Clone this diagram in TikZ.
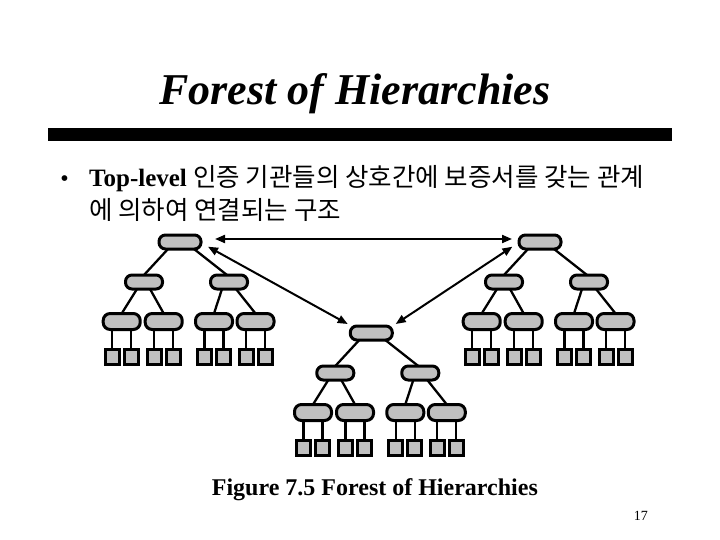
\documentclass[tikz,border=0pt]{standalone}
\usepackage{fontspec}
\setmainfont{Liberation Serif}
\newfontfamily\kr{Noto Sans CJK KR}
\usetikzlibrary{arrows.meta,calc,backgrounds}
\definecolor{boxgray}{RGB}{192,192,192}
\tikzset{
  boxbase/.style={draw=black,fill=boxgray,line width=3pt,inner sep=0pt,outer sep=0pt},
  rootbox/.style={boxbase,rectangle,rounded corners=6.5pt,minimum width=42pt,minimum height=14pt},
  midbox/.style={boxbase,rectangle,rounded corners=6.5pt,minimum width=37pt,minimum height=14pt},
  lowbox/.style={boxbase,rectangle,rounded corners=7pt,minimum width=37pt,minimum height=16pt},
  leafbox/.style={boxbase,rectangle,minimum width=14pt,minimum height=15pt},
  link/.style={draw=black,line width=2.3pt},
  biarrow/.style={draw=black,line width=2pt,{Triangle[length=10pt,width=8pt]}-{Triangle[length=10pt,width=8pt]}},
}
\newcommand\hiertree[3]{%
\begin{scope}[shift={(#2,#3)}]
\node[rootbox] (#1r) at (0,0) {};
\node[midbox] (#1a) at (-36,40) {};
\node[midbox] (#1b) at (49,40) {};
\node[lowbox] (#1aa) at (-58.3,79.5) {};
\node[lowbox] (#1ab) at (-16.3,79.5) {};
\node[lowbox] (#1ba) at (34,79.5) {};
\node[lowbox] (#1bb) at (75.5,79.5) {};
\foreach \p/\q in {aa/-58.3,ab/-16.3,ba/34,bb/75.5}{
  \node[leafbox] (#1\p1) at (\q-9.5,114.7) {};
  \node[leafbox] (#1\p2) at (\q+9.5,114.7) {};
}
\end{scope}
\begin{scope}[on background layer]
\draw[link] ([xshift=-12pt]#1r.south) -- (#1a.north);
\draw[link] ([xshift=14pt]#1r.south) -- ([xshift=-2pt]#1b.north);
\draw[link] ([xshift=-7pt]#1a.south) -- (#1aa.north);
\draw[link] ([xshift=6pt]#1a.south) -- (#1ab.north);
\draw[link] ([xshift=-7pt]#1b.south) -- (#1ba.north);
\draw[link] ([xshift=7pt]#1b.south) -- (#1bb.north);
\foreach \p in {aa,ab,ba,bb}{
  \draw[link] (#1\p1.north) -- (#1\p1.north |- #1\p.south);
  \draw[link] (#1\p2.north) -- (#1\p2.north |- #1\p.south);
}
\end{scope}
}
\begin{document}
\begin{tikzpicture}[x=1pt,y=-1pt]
\useasboundingbox (0,0) rectangle (720,540);
% title
\node[anchor=base,inner sep=0pt,font=\fontsize{44}{48}\selectfont\bfseries\itshape] (title) at (355,105) {Forest of Hierarchies};
\fill[black] (48,128) rectangle (672,141);
% bullet text
\node[anchor=base,inner sep=0pt,font=\fontsize{24}{28}\selectfont] (bul) at (64.5,187) {•};
\node[anchor=base west,inner sep=0pt,font=\fontsize{25}{28}\selectfont] (line1) at (89,187) {\textbf{Top-level} {\kr\fontsize{25.5}{28}\selectfont 인증 기관들의 상호간에 보증서를 갖는 관계}};
\node[anchor=base west,inner sep=0pt,font=\fontsize{25.5}{28}\selectfont\kr] (line2) at (89,220) {에 의하여 연결되는 구조};
% trees
\hiertree{L}{180}{242}
\hiertree{M}{371.3}{333}
\hiertree{R}{540}{242}
% arrows
\draw[biarrow] ([xshift=14pt,yshift=3pt]Lr.east) coordinate (h1) -- ([xshift=-7pt,yshift=3pt]Rr.west) coordinate (h2);
\draw[biarrow] ($(Lr.east)+(7,4.7)$) coordinate (d1) -- ($(Mr.west)+(-2.6,-9)$) coordinate (d2);
\draw[biarrow] ($(Rr.west)+(-6.6,4.7)$) coordinate (d3) -- ($(Mr.east)+(3.4,-9)$) coordinate (d4);
% caption
\node[anchor=base west,inner sep=0pt,font=\fontsize{24}{28}\selectfont\bfseries] (cap) at (211.7,495) {Figure 7.5 Forest of Hierarchies};
\node[anchor=base east,inner sep=0pt,font=\fontsize{14}{16}\selectfont] (pg) at (648,520) {17};
\end{tikzpicture}
\end{document}
